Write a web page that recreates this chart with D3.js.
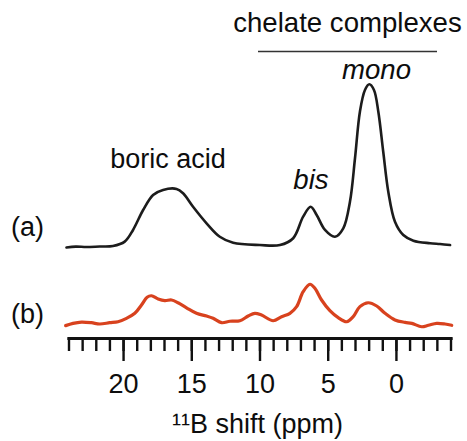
<!DOCTYPE html>
<html>
<head>
<meta charset="utf-8">
<script src="https://cdn.jsdelivr.net/npm/d3@7"></script>
<style>
  html, body { margin: 0; padding: 0; background: #fff; }
  svg { display: block; }
  text { font-family: "Liberation Sans", Arial, sans-serif; fill: #0d0d0d; }
</style>
</head>
<body>
<svg id="chart" width="467" height="441"></svg>
<script>
// chemical shift (ppm) of each sampled point
const shiftA = [24.15, 23.47, 22.69, 21.71, 20.74, 19.88, 19.27, 18.53, 17.80, 17.07, 16.08, 15.60, 14.87, 13.88, 12.91, 11.93, 9.97, 8.50, 7.53, 6.80, 6.25, 5.81, 5.20, 4.47, 3.86, 3.37, 3.00, 2.64, 2.27, 1.95, 1.61, 1.29, 0.93, 0.56, 0.07, -0.54, -1.28, -2.50, -3.23, -3.97];
// spectrum (a), intensity in a.u. (mono peak = 100)
const intensityA = [-0.6, -0.1, -0.3, 0, 0.3, 3.0, 10.2, 22.5, 31.8, 34.9, 35.5, 32.8, 24.5, 14.3, 6.0, 2.3, 0.9, 0.9, 5.1, 18.4, 24.5, 19.4, 10.2, 6.0, 11.2, 27.6, 54.4, 83.1, 96.5, 100, 96.5, 83.1, 58.4, 33.8, 15.3, 7.1, 3.6, 2.0, 1.5, 0.9];

const shiftB = [24.21, 23.67, 23.05, 22.32, 21.71, 20.98, 20.37, 19.75, 19.14, 18.65, 18.24, 17.92, 17.43, 16.94, 16.45, 15.97, 15.35, 14.62, 13.88, 13.40, 12.78, 12.17, 11.44, 10.83, 10.34, 9.85, 9.00, 8.38, 7.77, 7.28, 6.80, 6.30, 5.94, 5.45, 4.84, 4.23, 3.61, 3.13, 2.64, 2.03, 1.41, 0.80, 0.07, -0.67, -1.16, -1.89, -2.38, -2.99, -3.60, -4.09];
// spectrum (b), same intensity units
const intensityB = [-1.0, 0.4, 1.2, 0.8, 0, 0.8, 1.4, 3.5, 6.6, 11.7, 16.5, 17.4, 15.4, 14.4, 14.8, 13.1, 10.0, 6.6, 4.9, 3.5, 0.8, 1.7, 2.0, 4.9, 6.6, 5.5, 2.0, 4.5, 6.6, 10.7, 19.9, 24.5, 22.0, 14.8, 8.2, 3.9, 1.4, 4.5, 10.7, 13.1, 11.1, 6.6, 2.5, 1.0, 0.4, -1.7, -0.8, 0.4, 0, -0.8];

const majorTicks = [20, 15, 10, 5, 0];
const minorTicks = d3.range(-4, 25, 1);
const tickLabels = ["20", "15", "10", "5", "0"];
const traceLabels = ["(a)", "(b)"];
const peakLabels = ["boric acid", "bis", "mono"];
const groupLabel = "chelate complexes";
const axisTitle = "\u00B9\u00B9B shift (ppm)";

const svg = d3.select("#chart");
const FS = 27;
const FS2 = 27.6;

const x = d3.scaleLinear().domain([24, -4]).range([68.5, 450.5]);
const yA = d3.scaleLinear().domain([0, 100]).range([246.5, 84.3]);
const yB = d3.scaleLinear().domain([0, 100]).range([324, 161.8]);

const dataA = shiftA.map((s, i) => [s, intensityA[i]]);
const dataB = shiftB.map((s, i) => [s, intensityB[i]]);

const lineA = d3.line().x(d => x(d[0])).y(d => yA(d[1])).curve(d3.curveCatmullRom.alpha(0.5));
const lineB = d3.line().x(d => x(d[0])).y(d => yB(d[1])).curve(d3.curveCatmullRom.alpha(0.5));

svg.append("path").attr("d", lineA(dataA))
  .attr("fill", "none").attr("stroke", "#1c1c1c").attr("stroke-width", 2.6)
  .attr("stroke-linejoin", "round").attr("stroke-linecap", "round");
svg.append("path").attr("d", lineB(dataB))
  .attr("fill", "none").attr("stroke", "#d8421e").attr("stroke-width", 3.2)
  .attr("stroke-linejoin", "round").attr("stroke-linecap", "round");

// axis
const axisY = 338;
const gMinor = svg.append("g").attr("transform", `translate(0,${axisY})`)
  .call(d3.axisBottom(x).tickValues(minorTicks).tickSize(13).tickSizeOuter(0).tickFormat(""));
const gMajor = svg.append("g").attr("transform", `translate(0,${axisY})`)
  .call(d3.axisBottom(x).tickValues(majorTicks).tickSize(23).tickSizeOuter(0)
    .tickFormat((d, i) => tickLabels[i]));
[gMinor, gMajor].forEach(g => {
  g.selectAll("line").attr("stroke", "#111").attr("stroke-width", 2.4);
  g.select(".domain").attr("stroke", "#111").attr("stroke-width", 2.8).attr("stroke-linecap", "square");
});
gMajor.selectAll("text")
  .attr("y", 55).attr("dy", 0)
  .attr("font-size", FS)
  .attr("font-family", "Liberation Sans, Arial, sans-serif")
  .attr("fill", "#0d0d0d");

svg.append("text").attr("x", 257.5).attr("y", 433).attr("text-anchor", "middle")
  .attr("font-size", FS).text(axisTitle);

// trace labels
svg.append("text").attr("x", 11).attr("y", 236).attr("font-size", FS).text(traceLabels[0]);
svg.append("text").attr("x", 11).attr("y", 322.5).attr("font-size", FS).text(traceLabels[1]);

// peak labels
svg.append("text").attr("x", 168).attr("y", 167.5).attr("text-anchor", "middle")
  .attr("font-size", FS).text(peakLabels[0]);
svg.append("text").attr("x", 311).attr("y", 188.5).attr("text-anchor", "middle")
  .attr("font-size", FS2).attr("font-style", "italic").text(peakLabels[1]);
svg.append("text").attr("x", 376.5).attr("y", 78.5).attr("text-anchor", "middle")
  .attr("font-size", FS2).attr("font-style", "italic").text(peakLabels[2]);

// group label
svg.append("text").attr("x", 347.5).attr("y", 31.5).attr("text-anchor", "middle")
  .attr("font-size", FS2).text(groupLabel);
svg.append("line").attr("x1", 258).attr("x2", 437).attr("y1", 51.5).attr("y2", 51.5)
  .attr("stroke", "#333").attr("stroke-width", 1.6);
</script>
</body>
</html>
